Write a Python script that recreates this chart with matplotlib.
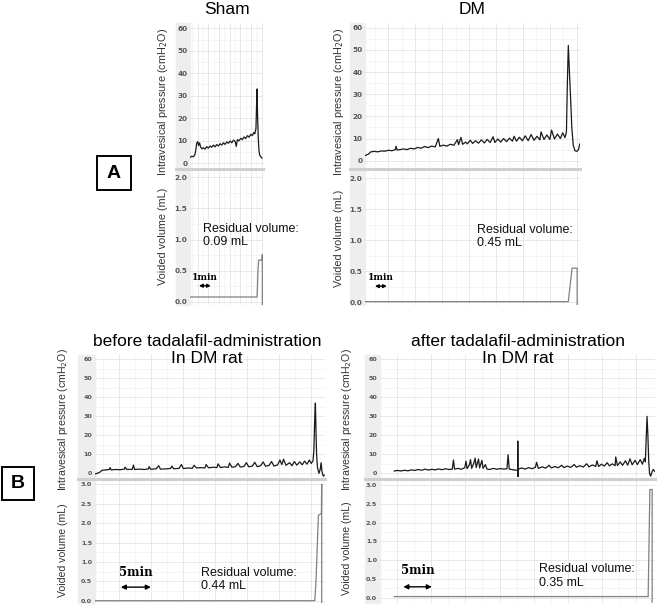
import numpy as np
import matplotlib
matplotlib.use("Agg")
import matplotlib.pyplot as plt
from matplotlib.patches import Rectangle
from matplotlib.lines import Line2D

W, H = 658, 605

# ---- traces (time in min) ----
sham_t = [0.00, 0.15, 0.30, 0.45, 0.54, 0.60, 0.69, 0.77, 0.86, 0.95,
          1.07, 1.20, 1.35, 1.50, 1.65, 1.80, 1.95, 2.10, 2.25, 2.40,
          2.55, 2.70, 2.85, 3.00, 3.15, 3.30, 3.45, 3.60, 3.75, 3.90,
          4.05, 4.15, 4.25, 4.40, 4.55, 4.70, 4.85, 5.00, 5.15, 5.30,
          5.45, 5.60, 5.72, 5.82, 5.92, 6.01, 6.06, 6.12, 6.18, 6.25,
          6.35, 6.45]
sham_p = [2.5, 3.0, 2.8, 3.8, 6.5, 8.8, 9.5, 7.8, 9.0, 7.2,
          6.3, 6.8, 6.2, 7.3, 6.6, 7.6, 7.0, 8.0, 7.2, 8.2,
          7.6, 8.6, 8.0, 9.0, 8.3, 9.4, 8.8, 9.8, 9.0, 10.2,
          9.6, 7.4, 10.4, 9.9, 11.0, 10.4, 11.6, 10.9, 12.2, 11.5,
          12.8, 12.2, 13.6, 13.0, 15.5, 33.0, 22.0, 12.0, 6.0, 3.5,
          2.8, 2.2]
sham_vt = [0.00, 6.02, 6.10, 6.16, 6.47, 6.49, 6.49]
sham_v = [0.08, 0.08, 0.50, 0.67, 0.67, 0.76, -0.04]

dm_t = [0.05, 0.3, 0.5, 0.8, 1.1, 1.4, 1.7, 2.0, 2.3, 2.6, 2.65, 2.75,
        3.0, 3.3, 3.6, 3.9, 4.2, 4.5, 4.8, 5.1, 5.4, 5.7, 6.0, 6.27,
        6.4, 6.7, 7.0, 7.3, 7.6, 7.9, 8.0, 8.2, 8.35, 8.6, 8.75, 9.0,
        9.2, 9.45, 9.7, 9.95, 10.2, 10.45, 10.7, 10.95, 11.1, 11.35, 11.6, 11.85,
        12.1, 12.35, 12.6, 12.75, 12.95, 13.2, 13.45, 13.7, 13.95, 14.2, 14.45, 14.7,
        14.95, 15.05, 15.3, 15.55, 15.8, 15.95, 16.2, 16.45, 16.7, 16.9, 17.1, 17.22,
        17.30, 17.38, 17.46, 17.56, 17.68, 17.80, 17.95, 18.10, 18.25, 18.36]
dm_p = [2.4, 3.0, 4.0, 4.2, 4.0, 4.4, 4.3, 4.7, 4.5, 5.0, 6.5, 4.8,
        5.0, 5.3, 5.0, 5.6, 5.3, 6.0, 5.6, 6.4, 5.9, 6.6, 6.2, 10.0,
        6.5, 7.0, 6.6, 7.4, 7.0, 9.5, 7.2, 10.5, 7.4, 8.4, 7.6, 9.2,
        7.8, 9.0, 7.9, 9.4, 8.0, 9.6, 8.2, 10.8, 8.2, 9.8, 8.4, 10.0,
        8.6, 10.2, 8.8, 11.0, 8.8, 10.6, 9.0, 11.2, 9.0, 11.8, 9.2, 11.0,
        9.4, 13.0, 9.6, 11.6, 9.6, 13.8, 9.8, 12.0, 10.0, 12.6, 10.4, 13.0,
        35.0, 52.0, 42.0, 30.0, 15.0, 7.0, 4.5, 4.2, 5.0, 7.5]
dm_vt = [0.0, 17.38, 17.70, 18.14, 18.14]
dm_v = [0.01, 0.01, 0.55, 0.55, -0.04]

before_t = [0.0, 0.4, 0.8, 1.2, 1.8, 2.4, 2.5, 2.7, 3.4, 4.2, 4.9, 5.0, 5.3,
            6.2, 6.4, 6.6, 7.4, 8.2, 8.9, 9.0, 9.3, 10.2, 10.6, 10.9, 11.8,
            12.6, 12.8, 13.1, 14.0, 14.4, 14.7, 15.5, 16.2, 16.5, 16.9, 17.7,
            18.3, 18.5, 18.9, 19.7, 20.3, 20.5, 20.9, 21.6, 22.2, 22.4, 22.8,
            23.4, 23.8, 24.2, 24.8, 25.2, 25.6, 26.2, 26.6, 27.0, 27.6, 28.0,
            28.4, 29.0, 29.4, 29.8, 30.4, 30.8, 31.1, 31.4, 31.8, 32.4, 32.8,
            33.2, 33.6, 34.1, 34.5, 34.9, 35.3, 35.7, 36.0, 36.3, 36.45, 36.6,
            36.7, 36.8, 36.9, 37.05, 37.3, 37.5, 37.65, 37.8, 38.0, 38.2]
before_p = [-0.3, 0.0, 0.6, 1.6, 1.8, 2.0, 3.0, 1.8, 2.0, 1.9, 2.2, 3.2, 2.0,
            2.1, 4.3, 2.0, 2.2, 2.0, 2.3, 3.5, 2.1, 2.4, 4.0, 2.2, 2.3,
            2.6, 3.8, 2.4, 2.6, 4.6, 2.5, 2.8, 2.6, 4.2, 2.8, 3.0,
            2.8, 4.6, 2.9, 3.2, 3.0, 5.0, 3.0, 3.4, 3.1, 5.4, 3.2,
            3.5, 5.2, 3.3, 3.6, 5.6, 3.4, 3.8, 5.8, 3.5, 4.0, 6.0,
            3.7, 4.2, 6.2, 3.8, 4.4, 7.0, 4.6, 7.4, 4.2, 5.6, 4.0,
            6.2, 4.3, 6.0, 4.5, 6.4, 4.8, 7.0, 5.2, 6.5, 12.0, 30.0,
            37.0, 22.0, 10.0, 3.0, 0.0, 2.0, 5.6, 1.0, -1.5, -1.0]
before_vt = [0.0, 36.6, 36.8, 37.2, 37.7, 37.75, 37.75]
before_v = [0.0, 0.0, 0.5, 2.2, 2.25, 3.0, -0.06]

after_t = [0.0, 0.6, 1.2, 1.8, 2.4, 3.0, 3.6, 4.2, 4.8, 5.4, 6.0, 6.6, 7.2,
           7.8, 8.4, 9.0, 9.6, 10.2, 10.4, 10.6, 11.2, 11.8, 12.4, 12.6, 12.8,
           13.2, 13.4, 13.6, 14.0, 14.2, 14.4, 14.8, 15.0, 15.4, 15.6, 16.0,
           16.3, 16.8, 17.4, 18.0, 18.6, 19.2, 19.8, 20.0, 20.2, 20.8, 21.4,
           21.7, 21.7, 21.72, 21.8, 22.4, 23.0, 23.6, 24.2, 24.8, 25.0, 25.3,
           26.0, 26.6, 27.2, 27.6, 28.2, 28.8, 29.4, 29.8, 30.4, 31.0, 31.6,
           32.0, 32.6, 33.2, 33.8, 34.2, 34.8, 35.4, 35.6, 35.9, 36.4, 36.9,
           37.4, 37.8, 38.3, 38.8, 38.9, 39.2, 39.7, 40.1, 40.6, 41.0, 41.4,
           41.8, 42.3, 42.7, 43.2, 43.6, 43.9, 44.1, 44.25, 44.4, 44.55, 44.7,
           44.85, 45.05, 45.3, 45.5, 45.75]
after_p = [1.2, 1.5, 1.2, 1.6, 1.3, 1.8, 1.5, 2.0, 1.6, 2.2, 1.7, 2.1, 1.8,
           2.3, 1.9, 2.4, 2.0, 2.2, 7.0, 2.2, 2.6, 2.1, 3.0, 6.4, 2.4,
           4.5, 7.2, 2.6, 5.5, 8.0, 3.0, 7.5, 2.8, 6.8, 2.6, 4.6,
           2.2, 2.0, 2.6, 2.1, 2.5, 2.2, 2.4, 9.8, 2.2, 1.9, 1.6,
           1.6, 17.0, -2.8, 2.2, 2.8, 2.2, 3.0, 2.4, 3.2, 5.8, 2.6,
           3.4, 2.7, 4.2, 2.8, 3.6, 2.9, 4.2, 3.0, 3.8, 3.1, 4.6,
           3.2, 4.0, 3.3, 5.0, 3.4, 4.4, 3.6, 6.6, 3.6, 4.8, 3.8,
           5.6, 3.9, 5.0, 4.0, 8.6, 4.1, 6.0, 4.2, 6.6, 4.3, 7.6,
           4.5, 6.8, 4.6, 7.2, 4.8, 7.8, 6.0, 18.0, 30.0, 20.0, 6.0,
           -0.3, -1.5, 1.0, 2.0, 1.0]
after_vt = [0.0, 44.6, 44.9, 45.3, 45.3]
after_v = [0.03, 0.03, 2.88, 2.88, -0.12]

titles = ["Sham", "DM", "before tadalafil-administration\nIn DM rat",
          "after tadalafil-administration\nIn DM rat"]
residuals = ["0.09 mL", "0.45 mL", "0.44 mL", "0.35 mL"]
pressure_ticks = [0, 10, 20, 30, 40, 50, 60]
volume_ticks_a = [0.0, 0.5, 1.0, 1.5, 2.0]
volume_ticks_b = [0.0, 0.5, 1.0, 1.5, 2.0, 2.5, 3.0]

fig = plt.figure(figsize=(W / 100, H / 100), dpi=100)


def px_axes(l, t, r, b):
    return fig.add_axes([l / W, 1 - b / H, (r - l) / W, (b - t) / H])


def style(ax, ticks, fmt, fs, xlim, ylim, vgrid, hminor):
    ax.set_xlim(*xlim)
    ax.set_ylim(*ylim)
    for s in ax.spines.values():
        s.set_visible(False)
    step = vgrid[1] - vgrid[0]
    ax.set_xticks(vgrid)
    ax.set_xticks([v - step / 2 for v in vgrid], minor=True)
    ax.set_yticks(ticks)
    ax.set_yticks(hminor, minor=True)
    ax.set_yticklabels([fmt.format(v) for v in ticks], fontsize=fs,
                       fontweight="bold", color="#555555", family="DejaVu Sans")
    ax.tick_params(axis="both", which="both", length=0, pad=2)
    ax.tick_params(axis="x", labelbottom=False)
    ax.grid(True, which="major", color="#e4e4e4", lw=0.6)
    ax.grid(True, which="minor", color="#f2f2f2", lw=0.5)
    ax.set_axisbelow(True)


panels = [
    dict(t=sham_t, p=sham_p, vt=sham_vt, v=sham_v,
         pbox=(190, 23, 263, 167), vbox=(190, 171, 263, 305), strip=176,
         xlim=(0, 6.55), pyl=(-1.78, 62.4), vyl=(-0.048, 2.096),
         vgrid=np.arange(0.68, 6.55, 0.96), vticks=volume_ticks_a, fs=5.2,
         lab_x=163, plab_y=102, vlab_y=236, lab_fs=7.8,
         title_xy=(227, 10), bar="1min", bar_fs=6.5,
         bar_x=(0.8, 1.87), bar_txt_y=0.40, bar_y=0.26,
         res_xy=(1.15, 1.06)),
    dict(t=dm_t, p=dm_p, vt=dm_vt, v=dm_v,
         pbox=(365, 23, 580, 167), vbox=(365, 171, 580, 305), strip=350,
         xlim=(0, 18.38), pyl=(-2.84, 62.1), vyl=(-0.044, 2.118),
         vgrid=np.arange(2.0, 18.4, 2.3), vticks=volume_ticks_a, fs=5.2,
         lab_x=339, plab_y=102, vlab_y=238, lab_fs=7.8,
         title_xy=(472, 10), bar="1min", bar_fs=6.5,
         bar_x=(0.85, 1.87), bar_txt_y=0.40, bar_y=0.26,
         res_xy=(9.6, 1.06)),
    dict(t=before_t, p=before_p, vt=before_vt, v=before_v,
         pbox=(95, 355, 325, 477), vbox=(95, 481, 325, 603), strip=78,
         xlim=(0, 38.3), pyl=(-1.95, 62.3), vyl=(-0.059, 3.085),
         vgrid=np.arange(4.07, 38.3, 5.33), vticks=volume_ticks_b, fs=4.6,
         lab_x=63, plab_y=420, vlab_y=550, lab_fs=7.6,
         title_xy=(207, 350), bar="5min", bar_fs=8.5,
         bar_x=(4.3, 9.3), bar_txt_y=0.72, bar_y=0.35,
         res_xy=(17.6, 0.54)),
    dict(t=after_t, p=after_p, vt=after_vt, v=after_v,
         pbox=(380, 355, 655, 477), vbox=(380, 481, 655, 603), strip=365,
         xlim=(0, 45.8), pyl=(-1.95, 62.3), vyl=(-0.141, 3.106),
         vgrid=np.arange(0.5, 45.8, 6.0), vticks=volume_ticks_b, fs=4.6,
         lab_x=347, plab_y=420, vlab_y=548, lab_fs=7.6,
         title_xy=(518, 350), bar="5min", bar_fs=8.5,
         bar_x=(1.6, 6.6), bar_txt_y=0.72, bar_y=0.29,
         res_xy=(25.4, 0.58)),
]

for i, pn in enumerate(panels):
    l, t, r, b = pn["pbox"]
    vb = pn["vbox"][3]
    # grey label strip and separator band
    fig.patches.append(Rectangle((pn["strip"] / W, 1 - vb / H), (l - pn["strip"]) / W,
                                 (vb - t) / H, transform=fig.transFigure,
                                 color="#eeeeee", zorder=-5))
    fig.lines.append(Line2D([pn["strip"] / W, r / W], [1 - (b + 1.5) / H] * 2,
                            transform=fig.transFigure, color="#cfcfcf", lw=2.2,
                            zorder=-4))

    axp = px_axes(*pn["pbox"])
    axp.patch.set_alpha(0)
    style(axp, pressure_ticks, "{:d}", pn["fs"], pn["xlim"], pn["pyl"],
          pn["vgrid"], [5, 15, 25, 35, 45, 55])
    axp.plot(pn["t"], pn["p"], color="#1a1a1a", lw=0.9)

    axv = px_axes(*pn["vbox"])
    axv.patch.set_alpha(0)
    vt = pn["vticks"]
    style(axv, vt, "{:.1f}", pn["fs"], pn["xlim"], pn["vyl"], pn["vgrid"],
          [x + 0.25 for x in vt[:-1]])
    axv.plot(pn["vt"], pn["v"], color="#808080", lw=0.9)

    # scale bar
    x0, x1 = pn["bar_x"]
    axv.annotate("", xy=(x1, pn["bar_y"]), xytext=(x0, pn["bar_y"]),
                 arrowprops=dict(arrowstyle="<|-|>", color="black", lw=1.0,
                                 mutation_scale=5 if i < 2 else 7,
                                 shrinkA=0, shrinkB=0))
    axv.text((x0 + x1) / 2, pn["bar_txt_y"], pn["bar"], ha="center", va="center",
             fontsize=pn["bar_fs"], fontweight="bold", family="DejaVu Serif")

    axv.text(pn["res_xy"][0], pn["res_xy"][1], "Residual volume:\n" + residuals[i],
             ha="left", va="center", fontsize=9, family="Liberation Sans",
             linespacing=1.15, color="#111111")

    fig.text(pn["lab_x"] / W, 1 - pn["plab_y"] / H, "Intravesical pressure (cmH$_2$O)",
             rotation=90, ha="center", va="center", fontsize=pn["lab_fs"],
             family="Liberation Sans", color="#333333")
    fig.text(pn["lab_x"] / W, 1 - pn["vlab_y"] / H, "Voided volume (mL)",
             rotation=90, ha="center", va="center", fontsize=pn["lab_fs"],
             family="Liberation Sans", color="#333333")

    tx, ty = pn["title_xy"]
    fig.text(tx / W, 1 - ty / H, titles[i], ha="center", va="center",
             fontsize=12.5, family="Liberation Sans", linespacing=1.1)

# panel letters
for letter, (l, t, r, b) in [("A", (97, 156, 131, 190)), ("B", (2, 467, 34, 500))]:
    fig.patches.append(Rectangle((l / W, 1 - b / H), (r - l) / W, (b - t) / H,
                                 transform=fig.transFigure, fill=False,
                                 edgecolor="black", lw=1.4))
    fig.text((l + r) / 2 / W, 1 - (t + b) / 2 / H, letter, ha="center", va="center",
             fontsize=14, fontweight="bold", family="Liberation Sans")

fig.savefig("out.png", dpi=100)
